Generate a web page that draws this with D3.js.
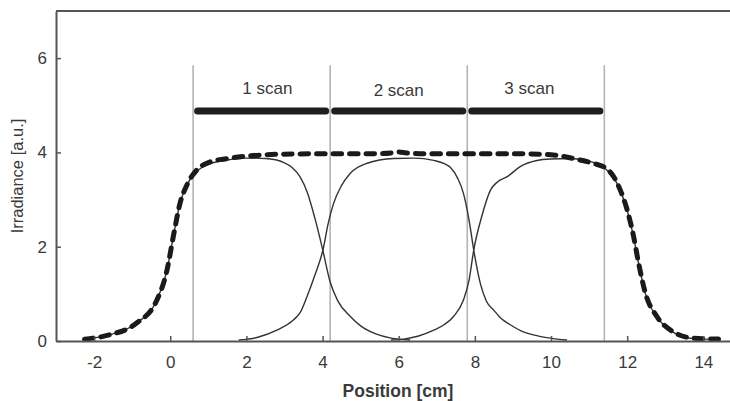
<!DOCTYPE html>
<html>
<head>
<meta charset="utf-8">
<script src="https://cdn.jsdelivr.net/npm/d3@7"></script>
<style>
  body { margin: 0; background: #fff; }
  svg text { font-family: "Liberation Sans", Arial, sans-serif; fill: #3a3a3a; }
</style>
</head>
<body>
<div id="chart"></div>
<script>
// ---- data ----
// total irradiance (dashed)
const sumX = [-2.25, -1.6, -0.9, -0.35, -0.1, 0.1, 0.25, 0.45, 0.7, 1.05, 1.5, 2.0, 2.8, 3.7, 4.5, 5.3, 5.8, 6.0, 6.2, 6.7, 7.5, 8.5, 9.2, 10.0, 10.7, 11.1, 11.45, 11.65, 11.82, 12.0, 12.17, 12.3, 12.48, 12.78, 13.2, 13.75, 14.4]
const sumY = [0.04, 0.13, 0.37, 0.87, 1.45, 2.3, 2.9, 3.33, 3.63, 3.8, 3.87, 3.92, 3.96, 3.97, 3.97, 3.97, 3.99, 4.01, 3.99, 3.97, 3.97, 3.97, 3.97, 3.95, 3.85, 3.77, 3.66, 3.48, 3.2, 2.78, 2.21, 1.65, 1.01, 0.52, 0.2, 0.06, 0.04]

// scan 1
const scan1X = [-2.25, -1.6, -0.9, -0.35, -0.1, 0.1, 0.25, 0.45, 0.7, 1.05, 1.5, 2.0, 2.5, 3.0, 3.2, 3.41, 3.6, 3.8, 4.0, 4.2, 4.4, 4.73, 5.0, 5.4, 5.8, 6.3]
const scan1Y = [0.04, 0.13, 0.37, 0.87, 1.45, 2.3, 2.9, 3.33, 3.6, 3.76, 3.84, 3.88, 3.87, 3.78, 3.68, 3.48, 3.15, 2.6, 1.95, 1.25, 0.85, 0.52, 0.32, 0.15, 0.06, 0.02]

// scan 2
const scan2X = [1.8, 2.3, 2.8, 3.24, 3.41, 3.59, 3.8, 4.01, 4.15, 4.29, 4.5, 4.73, 5.17, 5.87, 6.4, 6.92, 7.2, 7.36, 7.55, 7.7, 7.85, 7.97, 8.15, 8.3, 8.5, 8.7, 8.9, 9.2, 9.54, 9.98, 10.42]
const scan2Y = [0.02, 0.08, 0.23, 0.45, 0.6, 0.94, 1.4, 1.93, 2.5, 2.92, 3.3, 3.56, 3.77, 3.87, 3.88, 3.83, 3.76, 3.68, 3.45, 3.13, 2.55, 1.93, 1.2, 0.85, 0.65, 0.47, 0.36, 0.22, 0.13, 0.06, 0.02]

// scan 3
const scan3X = [5.8, 6.13, 6.5, 6.92, 7.2, 7.44, 7.7, 7.85, 7.97, 8.18, 8.41, 8.6, 8.84, 9.19, 9.63, 10.0, 10.5, 10.9, 11.2, 11.45, 11.65, 11.82, 12.0, 12.17, 12.3, 12.48, 12.78, 13.2, 13.75, 14.4]
const scan3Y = [0.02, 0.04, 0.1, 0.23, 0.35, 0.52, 0.87, 1.3, 1.93, 2.64, 3.2, 3.38, 3.48, 3.7, 3.83, 3.86, 3.87, 3.83, 3.76, 3.64, 3.46, 3.19, 2.77, 2.2, 1.64, 1.0, 0.51, 0.19, 0.05, 0.03]

// scan borders and bars
const borders = [0.6, 4.2, 7.8, 11.4]
const borderTop = 5.85
const barLevel = 4.88
const scanLabels = ["1 scan", "2 scan", "3 scan"]
const labelX = [2.55, 6.0, 9.43]
const labelY = [5.25, 5.2, 5.23]

const xTicks = [-2, 0, 2, 4, 6, 8, 10, 12, 14]
const yTicks = [0, 2, 4, 6]

// ---- drawing ----
const width = 730
const height = 401

const svg = d3.select("#chart").append("svg")
    .attr("width", width)
    .attr("height", height)

const x = d3.scaleLinear().domain([-3, 14.7]).range([56, 730])
const y = d3.scaleLinear().domain([0, 7]).range([341, 11])

// zip x and y arrays into points
function pts(xs, ys){
    return xs.map((v, i) => [v, ys[i]])
}

const line = d3.line()
    .x(d => x(d[0]))
    .y(d => y(d[1]))
    .curve(d3.curveMonotoneX)

// gray vertical lines
svg.selectAll(".border")
    .data(borders)
    .enter()
    .append("line")
    .attr("x1", d => x(d)).attr("x2", d => x(d))
    .attr("y1", y(0)).attr("y2", y(borderTop))
    .style("stroke", "#b4b4b4")
    .style("stroke-width", 1.6)

// thick scan bars
const cap = 3.5
svg.selectAll(".bar")
    .data(d3.range(borders.length - 1))
    .enter()
    .append("line")
    .attr("x1", i => x(borders[i]) + cap + 1)
    .attr("x2", i => x(borders[i + 1]) - cap - 1)
    .attr("y1", y(barLevel)).attr("y2", y(barLevel))
    .style("stroke", "#1e1e1e")
    .style("stroke-width", 7)
    .style("stroke-linecap", "round")

svg.selectAll(".scanlabel")
    .data(scanLabels)
    .enter()
    .append("text")
    .attr("x", (d, i) => x(labelX[i]))
    .attr("y", (d, i) => y(labelY[i]))
    .attr("text-anchor", "middle")
    .style("font-size", "17px")
    .text(d => d)

// solid scan curves
const scans = [pts(scan1X, scan1Y), pts(scan2X, scan2Y), pts(scan3X, scan3Y)]
svg.selectAll(".scan")
    .data(scans)
    .enter()
    .append("path")
    .attr("d", line)
    .style("fill", "none")
    .style("stroke", "#333")
    .style("stroke-width", 1.4)

// dashed total
svg.append("path")
    .datum(pts(sumX, sumY))
    .attr("d", line)
    .style("fill", "none")
    .style("stroke", "#1a1a1a")
    .style("stroke-width", 5)
    .style("stroke-dasharray", "8.5,8")
    .style("stroke-linecap", "round")

// axes (plain hyphen for negatives, integer labels)
const fmt = d => String(d)
svg.append("g")
    .attr("transform", `translate(0,${y(0)})`)
    .call(d3.axisBottom(x).tickValues(xTicks).tickFormat(fmt).tickSizeInner(-5).tickSizeOuter(0).tickPadding(15))
svg.append("g")
    .attr("transform", `translate(${x(-3)},0)`)
    .call(d3.axisLeft(y).tickValues(yTicks).tickFormat(fmt).tickSizeInner(-5).tickSizeOuter(0).tickPadding(9))

svg.selectAll(".domain").style("stroke", "#555").style("stroke-width", 2)
svg.selectAll(".tick line").style("stroke", "#555").style("stroke-width", 1.5)
svg.selectAll(".tick text").style("font-size", "17px").style("font-family", "Liberation Sans, Arial, sans-serif").style("fill", "#3a3a3a")

// top frame line
svg.append("line")
    .attr("x1", x(-3)).attr("x2", width)
    .attr("y1", y(7)).attr("y2", y(7))
    .style("stroke", "#555")
    .style("stroke-width", 2)

// axis titles
svg.append("text")
    .attr("transform", `translate(23,${(y(0) + y(7)) / 2}) rotate(-90)`)
    .attr("text-anchor", "middle")
    .style("font-size", "16.5px")
    .text("Irradiance [a.u.]")

svg.append("text")
    .attr("x", 398)
    .attr("y", 397)
    .attr("text-anchor", "middle")
    .style("font-size", "17.5px")
    .style("font-weight", "bold")
    .text("Position [cm]")
</script>
</body>
</html>
